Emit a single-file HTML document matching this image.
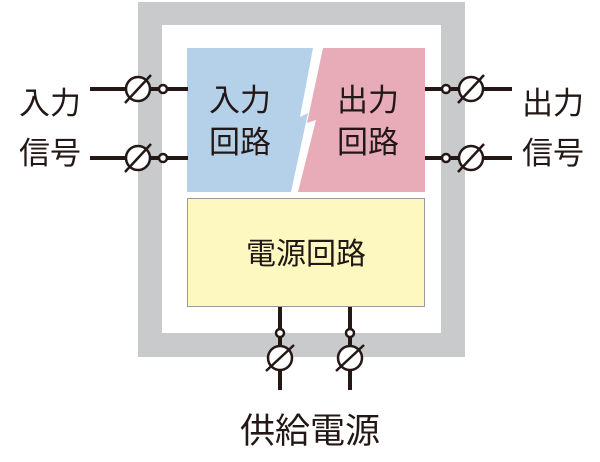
<!DOCTYPE html>
<html><head><meta charset="utf-8"><style>
body{margin:0;background:#fff;width:600px;height:457px;overflow:hidden}
svg text{font-family:"Liberation Sans","Noto Sans CJK JP",sans-serif;fill:#231815}
</style></head><body>
<svg width="600" height="457" viewBox="0 0 600 457">
<rect x="138" y="2" width="327" height="355" fill="#c9cacb"/>
<rect x="162" y="25" width="279" height="308" fill="#fff"/>
<polygon points="187,48 313,48 300,117 308,113 291,192 187,192" fill="#b5d1e9"/>
<polygon points="323,48 425,48 425,192 298,192 316,120 307,123" fill="#e8acb8"/>
<rect x="187.5" y="198.5" width="237" height="108" fill="#fdf8c0" stroke="#9a9a9a" stroke-width="1"/>
<g font-size="31" text-anchor="middle">
<text x="240" y="111">入力</text><text x="240" y="153">回路</text>
<text x="368" y="111">出力</text><text x="368" y="153">回路</text>
<text x="306" y="264" font-size="30">電源回路</text>
<text x="50" y="114">入力</text><text x="50" y="164">信号</text>
<text x="553" y="114">出力</text><text x="553" y="164">信号</text>
<text x="310" y="443" font-size="35">供給電源</text>
</g>
<g stroke="#231815" stroke-width="4" fill="#fff">
<line x1="90" y1="89" x2="188" y2="89"/><line x1="90" y1="158" x2="188" y2="158"/>
<line x1="350" y1="307" x2="350" y2="390"/><line x1="280" y1="307" x2="280" y2="390"/>
<line x1="425" y1="89" x2="512" y2="89"/><line x1="425" y1="158" x2="512" y2="158"/>
</g>
<g stroke="#231815" stroke-width="2.5" fill="#fff">
<circle cx="138" cy="89" r="12"/><circle cx="138" cy="158" r="12"/>
<circle cx="471" cy="89" r="12"/><circle cx="471" cy="158" r="12"/>
<circle cx="280" cy="358" r="12"/><circle cx="350" cy="358" r="12"/>
<circle cx="163" cy="89" r="4"/><circle cx="163" cy="158" r="4"/>
<circle cx="446" cy="89" r="4"/><circle cx="446" cy="158" r="4"/>
<circle cx="280" cy="333" r="4"/><circle cx="350" cy="333" r="4"/>
<line x1="125" y1="103" x2="151" y2="75"/><line x1="125" y1="172" x2="151" y2="144"/>
<line x1="458" y1="103" x2="484" y2="75"/><line x1="458" y1="172" x2="484" y2="144"/>
<line x1="266" y1="371" x2="294" y2="345"/><line x1="336" y1="371" x2="364" y2="345"/>
</g>
</svg>
</body></html>
